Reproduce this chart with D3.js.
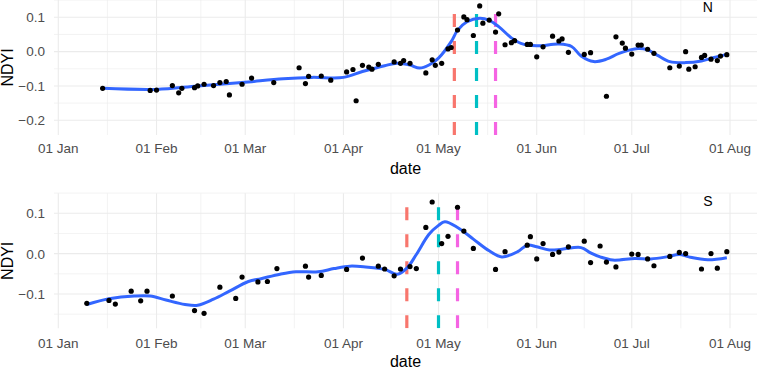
<!DOCTYPE html>
<html>
<head>
<meta charset="utf-8">
<script src="https://cdn.jsdelivr.net/npm/d3@7"></script>
<style>
  body { margin: 0; background: #fff; }
  svg { display: block; font-family: "Liberation Sans", Arial, Helvetica, sans-serif; }
</style>
</head>
<body>
<div id="container"></div>
<script>
const WIDTH = 759;
const HEIGHT = 368;

// ---- data ----
const nDates = ["01-15","01-30","02-01","02-06","02-08","02-09","02-13","02-14","02-16","02-19","02-21","02-23","02-24","02-28",
  "03-03","03-10","03-18","03-20","03-21","03-25","03-28","04-02","04-04","04-05","04-07","04-09","04-10","04-12","04-17","04-19",
  "04-20","04-22","04-27","04-29","04-30","05-02","05-04","05-05","05-07","05-09","05-10","05-12","05-14","05-15","05-17","05-19",
  "05-20","05-22","05-24","05-25","05-29","05-30","06-01","06-03","06-06","06-08","06-09","06-11","06-16","06-18","06-23","06-26",
  "06-28","06-29","07-01","07-03","07-04","07-06","07-08","07-13","07-16","07-18","07-19","07-21","07-23","07-24","07-26","07-28",
  "07-29","07-31"];
const nValues = [-0.107,-0.113,-0.112,-0.099,-0.120,-0.107,-0.105,-0.100,-0.095,-0.099,-0.090,-0.087,-0.126,-0.095,
  -0.077,-0.090,-0.047,-0.093,-0.072,-0.071,-0.083,-0.059,-0.052,-0.143,-0.040,-0.045,-0.051,-0.037,-0.030,-0.034,
  -0.026,-0.034,-0.062,-0.024,-0.040,-0.034,0.008,0.012,0.063,0.101,0.093,0.047,0.133,0.083,0.092,0.057,
  0.110,0.020,0.026,0.032,0.021,0.021,-0.015,0.014,0.045,0.031,0.037,-0.002,-0.008,-0.003,-0.130,0.043,
  0.025,0.010,-0.007,0.019,0.019,0.007,-0.005,-0.047,-0.042,0.000,-0.051,-0.044,-0.017,-0.011,-0.022,-0.026,
  -0.013,-0.009];

const sDates = ["01-10","01-17","01-19","01-24","01-27","01-29","02-06","02-13","02-16","02-21","02-26","02-28","03-05","03-08",
  "03-11","03-20","03-21","03-25","04-02","04-07","04-12","04-14","04-17","04-19","04-22","04-24","04-27","04-29","05-02","05-04",
  "05-07","05-09","05-12","05-19","05-22","05-29","05-30","06-01","06-03","06-06","06-08","06-11","06-16","06-18","06-21","06-23",
  "06-26","07-01","07-03","07-06","07-08","07-13","07-16","07-18","07-23","07-26","07-28","07-31"];
const sValues = [-0.123,-0.116,-0.125,-0.093,-0.117,-0.093,-0.105,-0.141,-0.148,-0.083,-0.111,-0.058,-0.070,-0.069,
  -0.037,-0.031,-0.058,-0.054,-0.039,-0.011,-0.031,-0.038,-0.055,-0.038,-0.032,-0.037,0.065,0.128,0.025,0.043,
  0.115,0.056,0.013,-0.039,0.005,0.021,0.042,-0.013,0.025,-0.002,0.004,0.017,0.031,-0.022,0.019,-0.021,
  -0.033,-0.001,-0.002,-0.013,-0.030,-0.007,0.003,0.000,-0.038,0.000,-0.036,0.005];

// smoothed curves
const nSmoothDates = ["01-15","02-01","02-14","02-28","03-13","03-22","04-01","04-07","04-14","04-18","04-22","04-25","04-28",
  "05-01","05-05","05-07","05-10","05-14","05-17","05-20","05-24","05-27","06-01","06-08","06-12","06-15","06-19","06-23",
  "06-27","07-03","07-06","07-09","07-13","07-18","07-23","07-27","07-31"];
const nSmoothValues = [-0.107,-0.110,-0.100,-0.090,-0.079,-0.075,-0.075,-0.058,-0.041,-0.034,-0.039,-0.048,-0.039,
  -0.019,0.029,0.062,0.087,0.097,0.091,0.073,0.040,0.024,0.017,0.022,0.015,-0.013,-0.029,-0.022,
  -0.005,0.009,0.005,-0.010,-0.029,-0.032,-0.027,-0.017,-0.008];

const sSmoothDates = ["01-10","01-17","01-25","01-30","02-04","02-10","02-14","02-19","02-24","03-02","03-06","03-12","03-17",
  "03-24","03-29","04-03","04-08","04-14","04-18","04-21","04-24","04-28","05-01","05-03","05-07","05-12","05-17","05-21",
  "05-26","05-29","06-01","06-05","06-09","06-15","06-18","06-21","06-25","07-02","07-07","07-12","07-16","07-19","07-25","07-31"];
const sSmoothValues = [-0.126,-0.112,-0.105,-0.105,-0.115,-0.126,-0.128,-0.113,-0.093,-0.069,-0.062,-0.051,-0.045,
  -0.045,-0.037,-0.031,-0.033,-0.039,-0.051,-0.036,-0.002,0.048,0.070,0.079,0.065,0.036,0.007,-0.008,
  0.005,0.021,0.017,0.009,0.011,0.015,0.002,-0.008,-0.016,-0.012,-0.013,-0.008,-0.002,-0.008,-0.015,-0.010];

const nEvents = ["05-06","05-13","05-19"];
const sEvents = ["04-21","05-01","05-07"];
const eventColors = ["#F8766D","#00BFC4","#F564E3"];

const xTickDates = ["01-01","02-01","03-01","04-01","05-01","06-01","07-01","08-01"];
const nYTicks = [-0.2,-0.1,0.0,0.1];
const sYTicks = [-0.1,0.0,0.1];

const YEAR = "2021-";
const parseDate = d3.timeParse("%Y-%m-%d");
const toDate = function (s) { return parseDate(YEAR + s); };

// ---- layout ----
const PANEL_LEFT = 54;
const PANEL_RIGHT = 757;

const panels = [
  {label: "N", dates: nDates, values: nValues, sDates: nSmoothDates, sValues: nSmoothValues, events: nEvents,
   top: 0, bottom: 135, yDomain: [-0.2, 0.1], yRange: [120.3, 17.3], ticks: nYTicks, minor: [-0.15,-0.05,0.05,0.15],
   tickY: 153, titleY: 174},
  {label: "S", dates: sDates, values: sValues, sDates: sSmoothDates, sValues: sSmoothValues, events: sEvents,
   top: 193.3, bottom: 328.3, yDomain: [-0.1, 0.1], yRange: [294, 213.3], ticks: sYTicks, minor: [-0.15,-0.05,0.05,0.15],
   tickY: 347.5, titleY: 366.5}
];

const xScale = d3.scaleTime()
  .domain([toDate("01-01"), toDate("08-01")])
  .range([58.3, 730]);

const xMajor = xTickDates.map(toDate);
const xMinor = [];
for (let i = 0; i < xMajor.length - 1; i++) {
  xMinor.push(new Date((xMajor[i].getTime() + xMajor[i + 1].getTime()) / 2));
}

const fmtY = d3.format(".1f");
const fmtX = d3.timeFormat("%d %b");

const svg = d3.select("#container")
  .append("svg")
  .attr("width", WIDTH)
  .attr("height", HEIGHT);

panels.forEach(function (p, idx) {
  const yScale = d3.scaleLinear().domain(p.yDomain).range(p.yRange);
  const clipId = "clip" + idx;

  svg.append("clipPath").attr("id", clipId)
    .append("rect")
    .attr("x", PANEL_LEFT).attr("y", p.top)
    .attr("width", PANEL_RIGHT - PANEL_LEFT).attr("height", p.bottom - p.top);

  const grid = svg.append("g");
  // minor grid
  grid.selectAll(".hminor").data(p.minor.filter(function (v) {
      const y = yScale(v); return y >= p.top - 1 && y <= p.bottom;
    }))
    .enter().append("line")
    .attr("x1", PANEL_LEFT).attr("x2", PANEL_RIGHT)
    .attr("y1", function (d) { return yScale(d); })
    .attr("y2", function (d) { return yScale(d); })
    .attr("stroke", "#ebebeb").attr("stroke-width", 0.6);
  grid.selectAll(".vminor").data(xMinor)
    .enter().append("line")
    .attr("x1", function (d) { return xScale(d); })
    .attr("x2", function (d) { return xScale(d); })
    .attr("y1", p.top).attr("y2", p.bottom)
    .attr("stroke", "#ebebeb").attr("stroke-width", 0.6);
  // major grid
  grid.selectAll(".hmajor").data(p.ticks)
    .enter().append("line")
    .attr("x1", PANEL_LEFT).attr("x2", PANEL_RIGHT)
    .attr("y1", function (d) { return yScale(d); })
    .attr("y2", function (d) { return yScale(d); })
    .attr("stroke", "#ebebeb").attr("stroke-width", 1.1);
  grid.selectAll(".vmajor").data(xMajor)
    .enter().append("line")
    .attr("x1", function (d) { return xScale(d); })
    .attr("x2", function (d) { return xScale(d); })
    .attr("y1", p.top).attr("y2", p.bottom)
    .attr("stroke", "#ebebeb").attr("stroke-width", 1.1);

  const g = svg.append("g").attr("clip-path", "url(#" + clipId + ")");

  // event lines, dashed from panel bottom upwards
  g.selectAll(".event").data(p.events)
    .enter().append("line")
    .attr("x1", function (d) { return xScale(toDate(d)); })
    .attr("x2", function (d) { return xScale(toDate(d)); })
    .attr("y1", p.bottom).attr("y2", p.top)
    .attr("stroke", function (d, i) { return eventColors[i]; })
    .attr("stroke-width", 3.2)
    .attr("stroke-dasharray", "13,14");

  const smooth = p.sDates.map(function (d, i) { return {date: toDate(d), value: p.sValues[i]}; });
  const line = d3.line()
    .x(function (d) { return xScale(d.date); })
    .y(function (d) { return yScale(d.value); })
    .curve(d3.curveCatmullRom.alpha(0.5));
  g.append("path")
    .attr("d", line(smooth))
    .attr("fill", "none")
    .attr("stroke", "#3366FF")
    .attr("stroke-width", 3);

  const pts = p.dates.map(function (d, i) { return {date: toDate(d), value: p.values[i]}; });
  g.selectAll(".pt").data(pts)
    .enter().append("circle")
    .attr("cx", function (d) { return xScale(d.date); })
    .attr("cy", function (d) { return yScale(d.value); })
    .attr("r", 2.6)
    .attr("fill", "#000");

  // panel label
  svg.append("text")
    .attr("x", xScale(toDate("07-25")))
    .attr("y", yScale(0.13))
    .attr("dy", "0.36em")
    .attr("text-anchor", "middle")
    .attr("font-size", 14)
    .attr("fill", "#000")
    .text(p.label);

  // y tick labels
  svg.append("g").selectAll("text").data(p.ticks)
    .enter().append("text")
    .attr("x", 45)
    .attr("y", function (d) { return yScale(d); })
    .attr("dy", "0.36em")
    .attr("text-anchor", "end")
    .attr("font-size", 13.5)
    .attr("fill", "#4D4D4D")
    .text(function (d) { return fmtY(d); });

  // x tick labels
  svg.append("g").selectAll("text").data(xMajor)
    .enter().append("text")
    .attr("x", function (d) { return xScale(d); })
    .attr("y", p.tickY)
    .attr("text-anchor", "middle")
    .attr("font-size", 13.5)
    .attr("fill", "#4D4D4D")
    .text(function (d) { return fmtX(d); });

  // axis titles
  svg.append("text")
    .attr("transform", "translate(12.5," + ((p.top + p.bottom) / 2) + ") rotate(-90)")
    .attr("text-anchor", "middle")
    .attr("font-size", 16)
    .attr("fill", "#000")
    .text("NDYI");

  svg.append("text")
    .attr("x", (PANEL_LEFT + PANEL_RIGHT) / 2)
    .attr("y", p.titleY)
    .attr("text-anchor", "middle")
    .attr("font-size", 16)
    .attr("fill", "#000")
    .text("date");
});
</script>
</body>
</html>
